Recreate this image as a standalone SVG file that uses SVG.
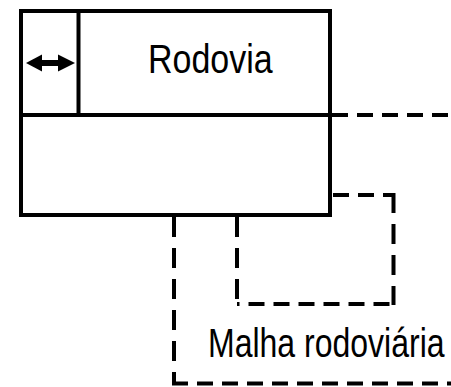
<svg xmlns="http://www.w3.org/2000/svg" width="451" height="387" viewBox="0 0 451 387">
  <style>
    .box { fill: #fff; stroke: #000; stroke-width: 4; }
    .rule { stroke: #000; stroke-width: 4; fill: none; }
    .dh { stroke: #000; stroke-width: 4; fill: none; stroke-dasharray: 16 9; }
    .dv { stroke: #000; stroke-width: 4; fill: none; stroke-dasharray: 20 11; }
    .label { font-family: "Liberation Sans", Arial, sans-serif; fill: #000; }
  </style>
  <rect width="451" height="387" fill="#fff"/>

  <!-- dashed boundaries -->
  <g id="connectors">
    <line class="dh" x1="332" y1="115" x2="451" y2="115"/>
    <line class="dh" x1="332" y1="195" x2="393.5" y2="195" stroke-dashoffset="-1"/>
    <line class="dv" x1="393.5" y1="193" x2="393.5" y2="305"/>
    <line class="dh" x1="393.5" y1="304" x2="237" y2="304" stroke-dashoffset="-4"/>
    <line class="dv" x1="237" y1="217" x2="237" y2="304"/>
    <line class="dv" x1="174" y1="217" x2="174" y2="385"/>
    <line class="dh" x1="172" y1="383.5" x2="451" y2="383.5"/>
  </g>

  <!-- class box -->
  <g id="rodovia">
    <rect class="box" x="21" y="11" width="309" height="204"/>
    <line class="rule" x1="21" y1="115" x2="330" y2="115"/>
    <line class="rule" x1="78.5" y1="11" x2="78.5" y2="115"/>
    <g id="icon">
      <line stroke="#000" stroke-width="6" x1="36" y1="63" x2="64" y2="63"/>
      <polygon points="26,63 42,54.5 42,71.5" fill="#000"/>
      <polygon points="75,63 58,54.5 58,71.5" fill="#000"/>
    </g>
    <text class="label" font-size="34" transform="translate(148,73) scale(1,1.18)">Rodovia</text>
  </g>

  <g id="malha">
    <text class="label" font-size="32" transform="translate(208,357) scale(1,1.25)">Malha rodoviária</text>
  </g>
</svg>
